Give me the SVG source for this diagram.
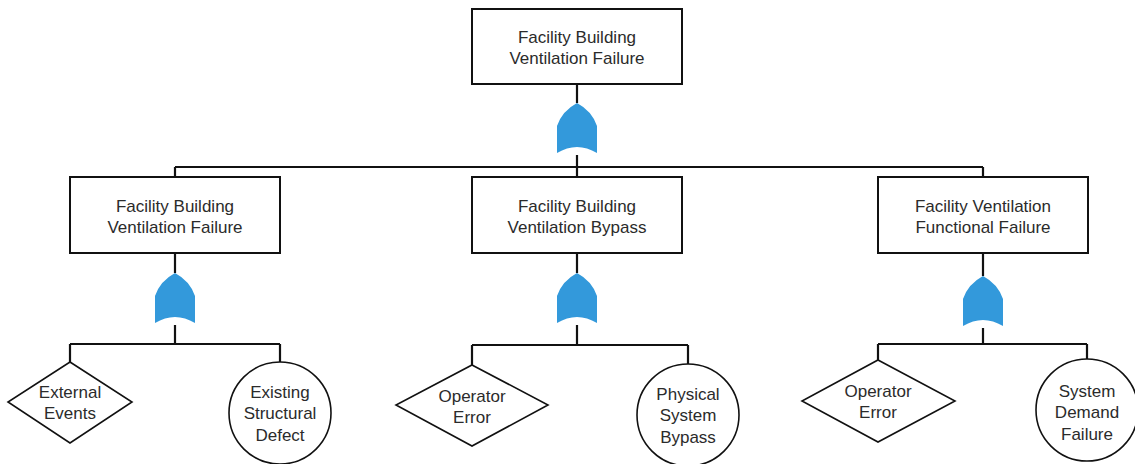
<svg xmlns="http://www.w3.org/2000/svg" width="1135" height="464" viewBox="0 0 1135 464">
  <style>
    .box { fill: #ffffff; stroke: #111111; stroke-width: 2; }
    .evt { fill: #ffffff; stroke: #111111; stroke-width: 1.6; }
    .wire { fill: none; stroke: #111111; stroke-width: 2.2; }
    .gate { fill: #3399db; }
    text { font-family: "Liberation Sans", Arial, sans-serif; font-size: 17px; fill: #2b2b2b; text-anchor: middle; dominant-baseline: central; }
  </style>
  <defs>
    <!-- OR gate, apex at origin -->
    <path id="orGate" class="gate" d="M0,0 Q15,8 20,23 L20,50 Q0,38 -20,50 L-20,23 Q-15,8 0,0 Z"/>
  </defs>

  <g id="connectors">
    <!-- top event to first OR gate -->
    <path class="wire" d="M577,84 V103"/>
    <path class="wire" d="M577,155 V167 M175,167 H983 M175,167 V177 M577,167 V177 M983,167 V177"/>
    <!-- left branch -->
    <path class="wire" d="M175,253 V273 M175,325 V344 M70,344 H280 M70,344 V362 M280,344 V362"/>
    <!-- middle branch -->
    <path class="wire" d="M577,253 V273 M577,325 V345 M472,345 H688 M472,345 V365 M688,345 V364"/>
    <!-- right branch -->
    <path class="wire" d="M983,253 V276 M983,328 V344 M878,344 H1087 M878,344 V360 M1087,344 V359"/>
  </g>

  <g id="gates">
    <use href="#orGate" x="577" y="103"/>
    <use href="#orGate" x="175" y="273"/>
    <use href="#orGate" x="577" y="273"/>
    <use href="#orGate" x="983" y="276"/>
  </g>

  <g id="top-event">
    <rect class="box" x="472" y="9" width="210" height="75"/>
    <text x="577" y="37">Facility Building</text>
    <text x="577" y="58">Ventilation Failure</text>
  </g>

  <g id="building-ventilation-failure">
    <rect class="box" x="70" y="177" width="210" height="76"/>
    <text x="175" y="206">Facility Building</text>
    <text x="175" y="227">Ventilation Failure</text>
  </g>

  <g id="building-ventilation-bypass">
    <rect class="box" x="472" y="177" width="210" height="76"/>
    <text x="577" y="206">Facility Building</text>
    <text x="577" y="227">Ventilation Bypass</text>
  </g>

  <g id="ventilation-functional-failure">
    <rect class="box" x="878" y="177" width="210" height="76"/>
    <text x="983" y="206">Facility Ventilation</text>
    <text x="983" y="227">Functional Failure</text>
  </g>

  <g id="external-events">
    <polygon class="evt" points="70,362 132,402 70,443 8,402"/>
    <text x="70" y="392">External</text>
    <text x="70" y="413">Events</text>
  </g>

  <g id="structural-defect">
    <circle class="evt" cx="280" cy="413" r="51"/>
    <text x="280" y="392">Existing</text>
    <text x="280" y="413">Structural</text>
    <text x="280" y="435">Defect</text>
  </g>

  <g id="operator-error-bypass">
    <polygon class="evt" points="472,365 548,405 472,446 396,405"/>
    <text x="472" y="396">Operator</text>
    <text x="472" y="417">Error</text>
  </g>

  <g id="physical-system-bypass">
    <circle class="evt" cx="688" cy="415" r="51"/>
    <text x="688" y="394">Physical</text>
    <text x="688" y="415">System</text>
    <text x="688" y="437">Bypass</text>
  </g>

  <g id="operator-error-functional">
    <polygon class="evt" points="878,360 955,401 878,442 802,401"/>
    <text x="878" y="391">Operator</text>
    <text x="878" y="412">Error</text>
  </g>

  <g id="system-demand-failure">
    <circle class="evt" cx="1087" cy="410" r="51"/>
    <text x="1087" y="391">System</text>
    <text x="1087" y="412">Demand</text>
    <text x="1087" y="434">Failure</text>
  </g>
</svg>
